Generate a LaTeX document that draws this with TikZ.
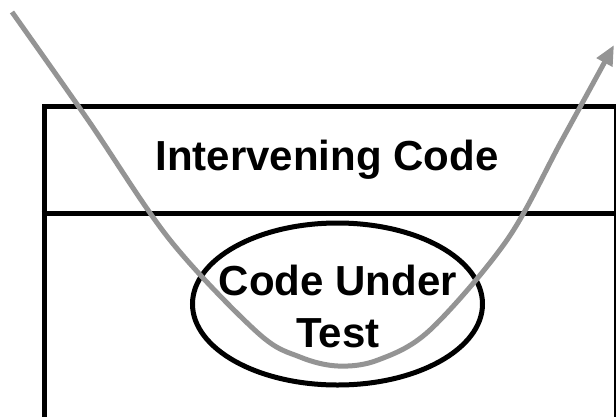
\documentclass[tikz,border=0pt]{standalone}
\usepackage{fontspec}
\setmainfont{Liberation Sans}
\usetikzlibrary{arrows.meta,shapes.geometric}
\begin{document}
\begin{tikzpicture}[x=1pt,y=-1pt,
  boxline/.style={draw=black,line width=5pt},
  label/.style={font=\fontsize{42}{52}\selectfont\bfseries,align=center,inner sep=0pt},
  vcurve/.style={draw=black!42,line width=5pt,-{Triangle[length=20pt,width=17pt]}}]
\useasboundingbox (0,0) rectangle (616,416);
\node[boxline,rectangle,minimum width=572pt,minimum height=313pt,anchor=north west,inner sep=0pt] (box) at (41.5,103.5) {};
\coordinate (dl) at (41.5,213.5);
\coordinate (dr) at (614,213.5);
\draw[boxline] (dl) -- (dr);
\node[label] (top) at (327,160) {Intervening Code};
\node[boxline,ellipse,minimum width=290pt,minimum height=162pt,inner sep=0pt] (cut) at (337.5,304) {};
\node[label] (cuttext) at (338,306) {Code Under\\Test};
\coordinate (s) at (12,12);
\coordinate (t) at (614,45);
\draw[vcurve] plot[smooth,tension=0.55] coordinates {(s) (88,120) (170,240) (258,333) (300,357) (338,366) (378,360) (430,330) (507,240) (562,140) (t)};
\end{tikzpicture}
\end{document}
